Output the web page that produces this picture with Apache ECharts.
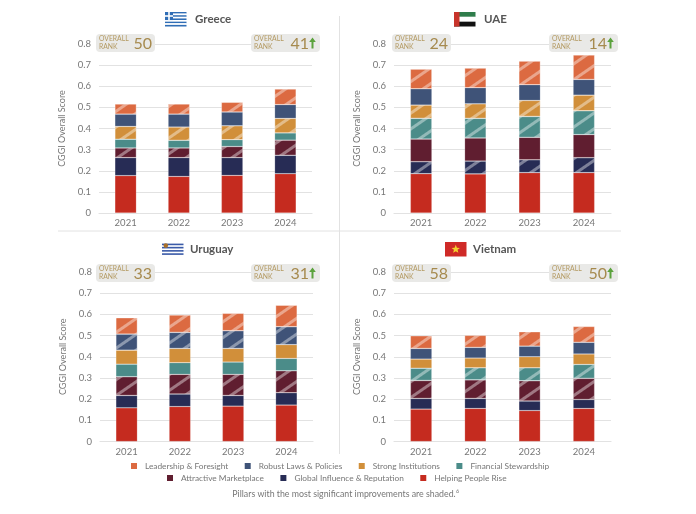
<!DOCTYPE html>
<html><head><meta charset="utf-8">
<style>html,body{margin:0;padding:0;background:#fff}#c{width:696px;height:514px}</style>
<script src="https://cdn.jsdelivr.net/npm/echarts@6/dist/echarts.min.js"></script>
</head><body><div id="c"></div>
<script>
const years = ['2021','2022','2023','2024'];
const pillars = ['Helping People Rise','Global Influence & Reputation','Attractive Marketplace','Financial Stewardship','Strong Institutions','Robust Laws & Policies','Leadership & Foresight'];
const pillarColors = ['#c52b1f','#272c55','#601e30','#4b8c89','#d18f3a','#3f5378','#dc6a41'];
const greece = [[.177,.173,.178,.186],[.085,.089,.084,.087],[.046,.046,.053,.072],[.041,.036,.032,.034],[.061,.063,.066,.069],[.058,.061,.065,.065],[.048,.048,.046,.074]];
const uae = [[.186,.185,.191,.191],[.057,.061,.061,.071],[.107,.109,.106,.109],[.098,.093,.099,.113],[.063,.069,.076,.074],[.077,.076,.074,.074],[.093,.093,.112,.116]];
const uruguay = [[.159,.165,.167,.172],[.058,.059,.050,.058],[.089,.093,.100,.104],[.059,.055,.058,.058],[.066,.067,.064,.065],[.076,.076,.084,.085],[.077,.082,.082,.101]];
const vietnam = [[.153,.156,.146,.156],[.050,.047,.045,.042],[.085,.088,.096,.100],[.058,.057,.061,.066],[.043,.046,.052,.049],[.050,.050,.050,.055],[.060,.057,.068,.075]];
const shadedGreece = [2,4,6], shadedUae = [1,3,4,6], shadedUruguay = [2,5,6], shadedVietnam = [2,3,6];
const ranks = {Greece:['50','41'],UAE:['24','14'],Uruguay:['33','31'],Vietnam:['58','50']};
const FONT = 'Lato';
const panels = [
 {name:'Greece',data:greece,shaded:shadedGreece,left:99,right:312,top:44,bottom:213,b1:96,b2:251,by:34,fx:165,fy:12,tx:195},
 {name:'UAE',data:uae,shaded:shadedUae,left:394,right:611,top:44,bottom:213,b1:392,b2:549,by:34,fx:454,fy:12,tx:484},
 {name:'Uruguay',data:uruguay,shaded:shadedUruguay,left:100,right:313,top:272,bottom:441.5,b1:96,b2:251,by:264,fx:162,fy:242,tx:190},
 {name:'Vietnam',data:vietnam,shaded:shadedVietnam,left:394,right:611,top:272,bottom:441.5,b1:392,b2:549,by:264,fx:445,fy:242,tx:473}
];
const grids=[],xAxes=[],yAxes=[],series=[],g=[];
const decal={symbol:'rect',symbolSize:1,dashArrayX:[1,0],dashArrayY:[3,10],rotation:-Math.PI/5.2,color:'rgba(255,255,255,0.4)'};
function rect(x,y,w,h,fill,extra){g.push({type:'rect',z:20,shape:Object.assign({x,y,width:w,height:h},extra||{}),style:{fill}});}
function flag(name,x,y){
  const w=21.5,h=14.5;
  if(name==='Greece'){
    for(let i=0;i<9;i++) rect(x,y+i*h/9,w,h/9,i%2?'#fff':'#2f6db5');
    rect(x,y,8,8.05,'#2f6db5');rect(x+3.2,y,1.6,8.05,'#fff');rect(x,y+3.2,8,1.6,'#fff');
  } else if(name==='UAE'){
    rect(x,y,w,h/3,'#2f7d4b');rect(x,y+h/3,w,h/3,'#fff');rect(x,y+2*h/3,w,h/3,'#111');rect(x,y,5.5,h,'#c8342b');
  } else if(name==='Uruguay'){
    rect(x,y,w,h,'#fff');
    for(let i=1;i<9;i+=2) rect(x,y+i*h/9,w,h/9,'#3a5aa8');
    g.push({type:'circle',z:21,shape:{cx:x+3.8,cy:y+3.6,r:2.3},style:{fill:'#a8702a'}});
  } else {
    rect(x,y,w,h,'#cf2a27');
    const pts=[];for(let i=0;i<10;i++){const r=i%2?1.9:4.4,a=-Math.PI/2+i*Math.PI/5;pts.push([x+w/2+r*Math.cos(a),y+h/2+r*Math.sin(a)]);}
    g.push({type:'polygon',z:21,shape:{points:pts},style:{fill:'#f5d22e'}});
  }
}
function text(x,y,t,size,fill,weight,align,vert){
  g.push({type:'text',z:22,x,y,style:{text:t,font:(weight||'normal')+' '+size+'px '+FONT,fill,align:align||'left',verticalAlign:vert||'middle'}});
}
function badge(x,y,w,num,num_x,up){
  rect(x,y,w,18,'#e9e9e7',{r:4});
  text(x+3,y+5,'OVERALL',6.8,'#b49a62');
  text(x+3,y+12.5,'RANK',6.8,'#b49a62');
  text(num_x,y+9.5,num,16,'#a68a4e','normal','right');
  if(up){
    const ax=x+w-7.5;
    g.push({type:'polygon',z:22,shape:{points:[[ax,y+3.5],[ax+3.3,y+8],[ax+1,y+8],[ax+1,y+14.5],[ax-1,y+14.5],[ax-1,y+8],[ax-3.3,y+8]]},style:{fill:'#5ba23d'}});
  }
}
panels.forEach((p,i)=>{
  grids.push({left:p.left,top:p.top,width:p.right-p.left,height:p.bottom-p.top});
  xAxes.push({type:'category',gridIndex:i,data:years,axisTick:{show:false},axisLine:{lineStyle:{color:'#e2e2e2',width:1.2}},
    axisLabel:{color:'#777',fontSize:9.5,fontFamily:FONT,margin:5}});
  yAxes.push({type:'value',gridIndex:i,min:0,max:0.8,interval:0.1,name:'CGGI Overall Score',nameLocation:'middle',nameGap:32,nameRotate:90,
    nameTextStyle:{color:'#777',fontSize:9,fontFamily:FONT},
    axisLabel:{color:'#777',fontSize:9.5,fontFamily:FONT,margin:8,formatter:v=>v===0?'0':v.toFixed(1)},
    axisLine:{show:false},axisTick:{show:false},splitLine:{lineStyle:{color:'#e2e2e2',width:1.2}}});
  pillars.forEach((n,k)=>{
    series.push({type:'bar',name:n,xAxisIndex:i,yAxisIndex:i,stack:'s'+i,barWidth:21.5,data:p.data[k],
      itemStyle:Object.assign({color:pillarColors[k],borderColor:'rgba(255,255,255,0.35)',borderWidth:0.5},p.shaded.includes(k)?{decal}:{}),
      emphasis:{disabled:true},silent:true});
  });
  flag(p.name,p.fx,p.fy);
  text(p.tx,p.fy+7.5,p.name,11.5,'#565656','bold');
  const r=ranks[p.name];
  badge(p.b1,p.by,59,r[0],p.b1+56,false);
  badge(p.b2,p.by,69,r[1],p.b2+58,true);
});
// dividers
g.push({type:'line',z:1,shape:{x1:339.5,y1:16,x2:339.5,y2:454},style:{stroke:'#e2e2e2',lineWidth:1}});
g.push({type:'line',z:1,shape:{x1:58,y1:231,x2:621,y2:231},style:{stroke:'#e2e2e2',lineWidth:1}});
g.push({type:'text',z:22,x:344,y:494,style:{text:'Pillars with the most significant improvements are shaded.',font:'8.8px '+FONT,fill:'#777',align:'center',verticalAlign:'middle'}});
g.push({type:'text',z:22,x:456,y:491,style:{text:'6',font:'5.5px '+FONT,fill:'#777',align:'left',verticalAlign:'middle'}});

function legendRow(items,left,top,gap){
  return {left,top,padding:0,orient:'horizontal',itemWidth:6,itemHeight:6,itemGap:gap,icon:'rect',selectedMode:false,
    data:items.map(n=>({name:n,icon:'rect',itemStyle:{color:pillarColors[pillars.indexOf(n)],decal:'none',borderWidth:0}})),
    textStyle:{color:'#777',fontSize:8.3,fontFamily:FONT,padding:[0,0,0,3]}};
}
const chart=echarts.init(document.getElementById('c'),null,{renderer:'canvas'});
chart.setOption({animation:false,backgroundColor:'#fff',grid:grids,xAxis:xAxes,yAxis:yAxes,series,
  graphic:{elements:g},
  tooltip:{show:false},
  legend:[legendRow(['Leadership & Foresight','Robust Laws & Policies','Strong Institutions','Financial Stewardship'],131,462,16.5),
          legendRow(['Attractive Marketplace','Global Influence & Reputation','Helping People Rise'],167,474,16.5)]});
</script></body></html>
